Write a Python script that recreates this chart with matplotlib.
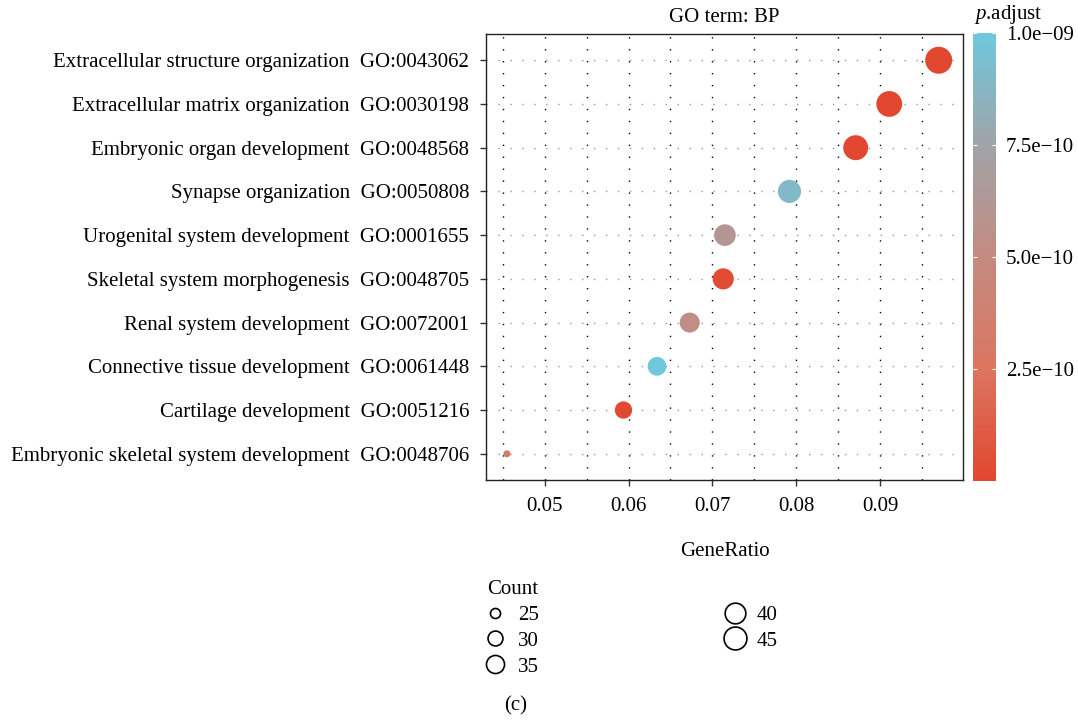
import matplotlib
matplotlib.use("Agg")
import matplotlib.pyplot as plt
import numpy as np
from matplotlib.colors import LinearSegmentedColormap
from matplotlib.lines import Line2D

plt.rcParams['font.family'] = ['Liberation Serif', 'DejaVu Serif']
plt.rcParams['axes.unicode_minus'] = True
plt.rcParams['mathtext.fontset'] = 'custom'
plt.rcParams['mathtext.rm'] = 'Liberation Serif'
plt.rcParams['mathtext.it'] = 'Liberation Serif:italic'

# données (de haut en bas)
termes = [
    "Extracellular structure organization  GO:0043062",
    "Extracellular matrix organization  GO:0030198",
    "Embryonic organ development  GO:0048568",
    "Synapse organization  GO:0050808",
    "Urogenital system development  GO:0001655",
    "Skeletal system morphogenesis  GO:0048705",
    "Renal system development  GO:0072001",
    "Connective tissue development  GO:0061448",
    "Cartilage development  GO:0051216",
    "Embryonic skeletal system development  GO:0048706",
]
gene_ratio = [0.0970, 0.0911, 0.0871, 0.0792, 0.0715, 0.0713, 0.0673, 0.0634, 0.0594, 0.0455]
count = [49, 46, 44, 40, 37, 36, 34, 32, 30, 23]
p_adjust = [2e-12, 5e-12, 8e-12, 9.0e-10, 6.2e-10, 3e-11, 5.3e-10, 1.0e-09, 1.5e-11, 3.0e-10]

legende_counts = [25, 30, 35, 40, 45]
cbar_ticks = [2.5e-10, 5.0e-10, 7.5e-10, 1.0e-09]
cbar_labels = ["2.5e\u221210", "5.0e\u221210", "7.5e\u221210", "1.0e\u221209"]
x_ticks = [0.05, 0.06, 0.07, 0.08, 0.09]

FS = 15

cmap = LinearSegmentedColormap.from_list(
    "padj", ["#E2472F", "#DC7560", "#C58B80", "#A0A3A8", "#6FC8DE"])

cmin, cmax = min(count), max(count)
dmin, dmax = 7.0, 27.0  # diamètres en pixels


def diametre(c):
    v = np.clip((np.asarray(c, float) - cmin) / (cmax - cmin), 0, 1)
    return dmin + (dmax - dmin) * np.sqrt(v)


fig = plt.figure(figsize=(10.78, 7.21), dpi=100)
ax = fig.add_axes([486 / 1078, 1 - 480 / 721, 477 / 1078, 446 / 721])
cax = fig.add_axes([973 / 1078, 1 - 481 / 721, 23 / 1078, 448 / 721])

n = len(termes)
y = np.arange(n)[::-1]
tailles = (diametre(count) * 0.72) ** 2
sc = ax.scatter(gene_ratio, y, s=tailles, c=p_adjust, cmap=cmap,
                vmin=0, vmax=1.0e-09, zorder=3, linewidths=0)

ax.set_xlim(0.0430, 0.0999)
ax.set_ylim(-0.6, n - 0.4)
ax.set_yticks(y)
ax.set_yticklabels(termes, fontsize=FS)
ax.set_xticks(x_ticks)
ax.set_xticklabels(["%.2f" % t for t in x_ticks], fontsize=FS)
ax.set_xticks(np.arange(0.045, 0.0951, 0.01), minor=True)
ax.tick_params(axis='y', which='major', length=4, width=1, color='#333333', pad=8)
ax.tick_params(axis='x', which='major', length=4, width=1, color='#333333', pad=8)
ax.tick_params(axis='x', which='minor', length=0)

ax.grid(axis='x', which='both', color='black', linewidth=1.0, linestyle=(0, (1, 7.6)))
ax.grid(axis='y', which='major', color='#999999', linewidth=1.0, linestyle=(0, (1, 7.6)))
ax.set_axisbelow(True)
for s in ax.spines.values():
    s.set_linewidth(1.0)
    s.set_color('#222222')

ax.set_xlabel("GeneRatio", fontsize=FS, labelpad=19)
ax.set_title("GO term: BP", fontsize=FS, pad=8.5)

cb = fig.colorbar(sc, cax=cax)
cb.outline.set_visible(False)
cb.set_ticks(cbar_ticks)
cb.set_ticklabels(cbar_labels)
cax.tick_params(axis='y', which='major', direction='in', color='white', length=3,
                width=0.8, left=True, right=True, labelsize=FS, pad=7)
fig.text(974 / 1078, 1 - 15 / 721, "$\\mathit{p}$.adjust", fontsize=FS,
         ha='left', va='center')

poignees = [Line2D([], [], linestyle='none', marker='o', markerfacecolor='none',
                   markeredgecolor='black', markeredgewidth=1.2,
                   markersize=(diametre(c) - 2.5) * 0.72)
            for c in legende_counts]
fig.legend(poignees, [str(c) for c in legende_counts], title="Count", ncol=2,
           loc='upper left', bbox_to_anchor=(485 / 1078, 1 - 578 / 721),
           frameon=False, fontsize=FS, title_fontsize=FS, alignment='left',
           handlelength=0.8, handletextpad=0.67, labelspacing=0.3,
           columnspacing=9.0, borderaxespad=0, borderpad=0.1)

fig.text(516 / 1078, 1 - 706 / 721, "(c)", fontsize=FS, ha='center', va='center')

fig.savefig("out.png", dpi=100)
